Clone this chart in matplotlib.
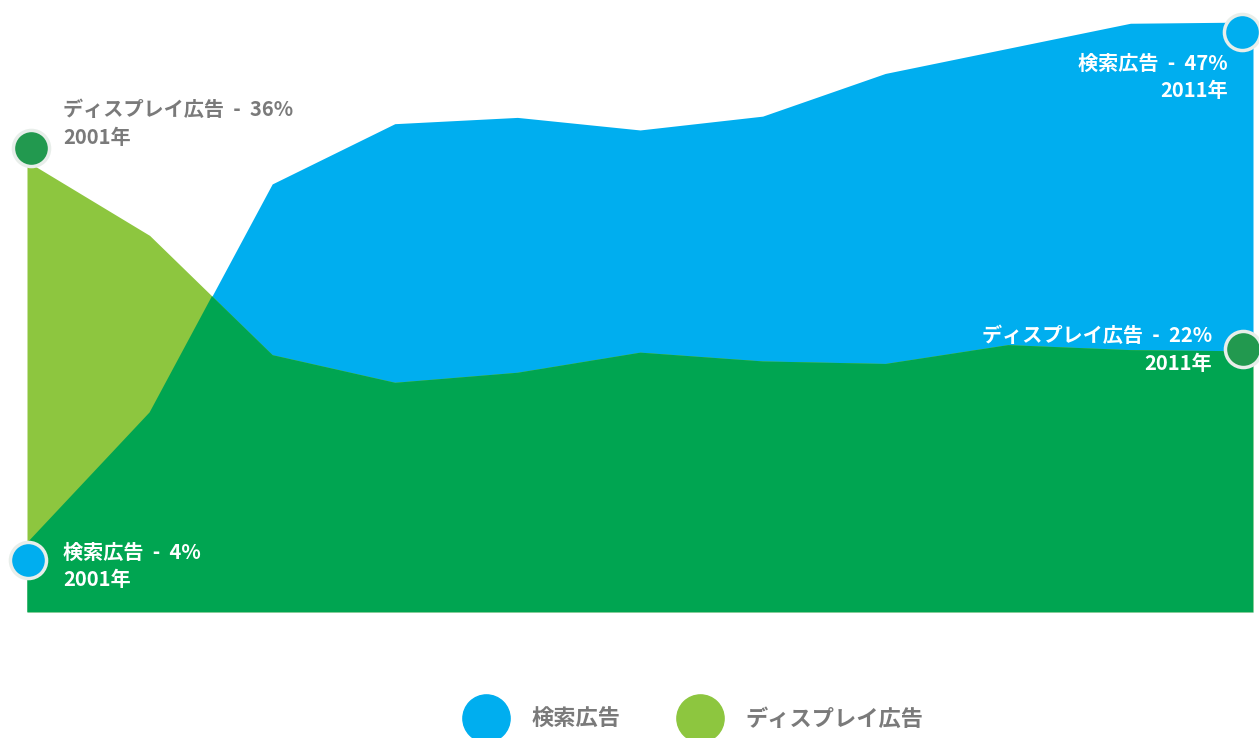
import numpy as np
import matplotlib.pyplot as plt
from matplotlib.lines import Line2D
from matplotlib.transforms import ScaledTranslation

plt.rcParams['font.family'] = ['Noto Sans CJK JP', 'DejaVu Sans']

# Donnees (part en %)
annees = [2001, 2002, 2003, 2004, 2005, 2006, 2007, 2008, 2009, 2010, 2011]
recherche = [5.5, 15.9, 34.1, 38.9, 39.4, 38.4, 39.5, 42.9, 44.9, 46.9, 47.0]
display = [35.9, 30.0, 20.5, 18.3, 19.1, 20.7, 20.0, 19.8, 21.3, 20.9, 20.8]

nom_recherche = '検索広告'
nom_display = 'ディスプレイ広告'
lbl_rech_debut = '検索広告  -  4%\n2001年'
lbl_rech_fin = '検索広告  -  47%\n2011年'
lbl_disp_debut = 'ディスプレイ広告  -  36%\n2001年'
lbl_disp_fin = 'ディスプレイ広告  -  22%\n2011年'

bleu = '#00AEEF'
vert_clair = '#8DC63F'
vert_fonce = '#00A551'
vert_point = '#22994F'
gris = '#7A7A7A'

x = np.array(annees)
r = np.array(recherche)
d = np.array(display)

fig = plt.figure(figsize=(12.59, 7.38), dpi=100)
ax = fig.add_axes([27 / 1259, 1 - 612 / 738, 1226 / 1259, 590 / 738])

zone_bleue = ax.fill_between(x, 0, r, color=bleu, lw=0)
ax.fill_between(x, 0, d, color=vert_clair, lw=0)
# zone commune : la surface display coupee par la surface recherche
commun = ax.fill_between(x, 0, d, color=vert_fonce, lw=0)
commun.set_clip_path(zone_bleue.get_paths()[0], ax.transData)

ax.set_xlim(annees[0], annees[-1])
ax.set_ylim(0, 47)
ax.axis('off')

# points aux extremites
def point(xv, yv, couleur, dx, dy):
    decal = ScaledTranslation(dx / 100, dy / 100, fig.dpi_scale_trans)
    ax.plot([xv], [yv], 'o', ms=26, color=couleur, mec='#E8EEEA', mew=2.5,
            clip_on=False, zorder=5, transform=ax.transData + decal)

point(annees[0], display[0], vert_point, 4, 13)
point(annees[0], recherche[0], bleu, 1, -17)
point(annees[-1], recherche[-1], bleu, -11, -10)
point(annees[-1], display[-1], vert_point, -10, 2)

style = dict(textcoords='offset pixels', fontsize=14.5, fontweight='bold',
             va='center', linespacing=1.4)
ax.annotate(lbl_disp_debut, (annees[0], display[0]), xytext=(36, 38),
            color=gris, ha='left', **style)
ax.annotate(lbl_rech_debut, (annees[0], recherche[0]), xytext=(36, -23),
            color='white', ha='left', **style)
ax.annotate(lbl_rech_fin, (annees[-1], recherche[-1]), xytext=(-25, -55),
            color='white', ha='right', multialignment='right', **style)
ax.annotate(lbl_disp_fin, (annees[-1], display[-1]), xytext=(-41, 1),
            color='white', ha='right', multialignment='right', **style)

# legende
poignees = [Line2D([], [], ls='', marker='o', ms=34, color=bleu),
            Line2D([], [], ls='', marker='o', ms=34, color=vert_clair)]
leg = fig.legend(poignees, [nom_recherche, nom_display], loc='center',
                 bbox_to_anchor=(0.553, 1 - 719 / 738), ncol=2, frameon=False,
                 handlelength=1.5, handletextpad=1.3, columnspacing=2.8,
                 prop={'size': 16, 'weight': 'bold'})
for t in leg.get_texts():
    t.set_color(gris)

fig.savefig('out.png', dpi=100)
